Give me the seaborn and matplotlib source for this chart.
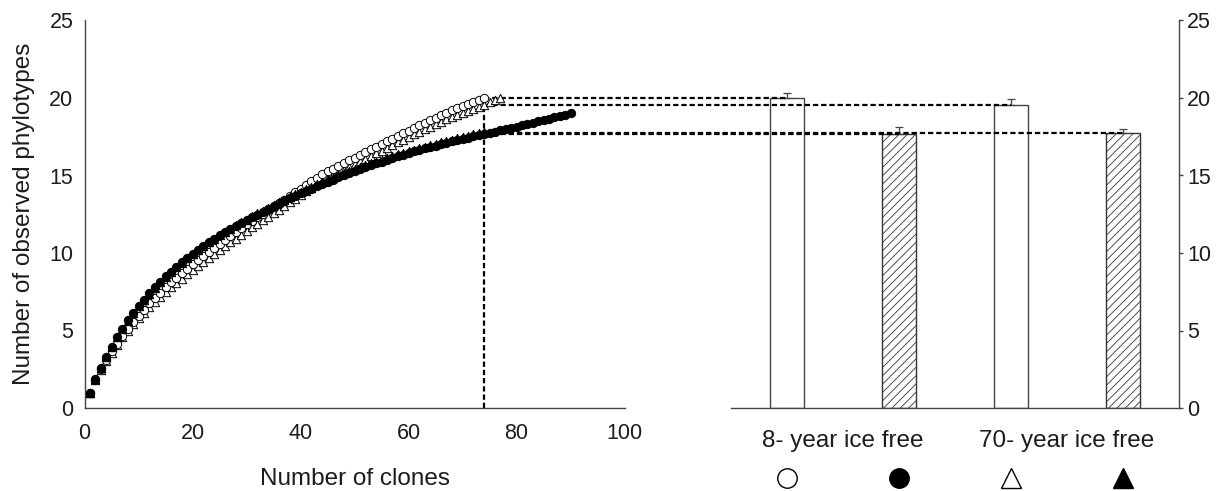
import matplotlib
matplotlib.use("Agg")
import matplotlib.pyplot as plt
import matplotlib.transforms as mtransforms
import numpy as np
import pandas as pd
import seaborn as sns

# Rarefaction curves: observed phylotypes vs. number of clones sampled
site8_open = [
    1.0, 1.8, 2.5, 3.1, 3.65, 4.15, 4.65, 5.1, 5.55, 5.95,
    6.35, 6.75, 7.1, 7.45, 7.8, 8.1, 8.4, 8.7, 9.0, 9.28,
    9.55, 9.82, 10.08, 10.34, 10.6, 10.85, 11.1, 11.35, 11.6, 11.84,
    12.07, 12.3, 12.53, 12.76, 12.99, 13.22, 13.45, 13.68, 13.92, 14.16,
    14.4, 14.63, 14.87, 15.1, 15.28, 15.45, 15.63, 15.8, 15.98, 16.15,
    16.33, 16.5, 16.68, 16.85, 17.03, 17.2, 17.38, 17.55, 17.73, 17.9,
    18.08, 18.25, 18.41, 18.57, 18.73, 18.89, 19.05, 19.2, 19.34, 19.48,
    19.61, 19.74, 19.87, 20.0,
]
site8_filled = [
    1.0, 1.85, 2.6, 3.3, 3.95, 4.55, 5.1, 5.65, 6.15, 6.6,
    7.0, 7.4, 7.8, 8.15, 8.5, 8.8, 9.1, 9.4, 9.68, 9.95,
    10.2, 10.45, 10.7, 10.93, 11.15, 11.35, 11.55, 11.75, 11.93, 12.1,
    12.3, 12.48, 12.66, 12.84, 13.0, 13.18, 13.35, 13.52, 13.68, 13.84,
    14.0, 14.15, 14.3, 14.45, 14.6, 14.74, 14.88, 15.02, 15.15, 15.28,
    15.41, 15.54, 15.66, 15.78, 15.9, 16.02, 16.13, 16.24, 16.35, 16.45,
    16.55, 16.65, 16.75, 16.84, 16.93, 17.02, 17.11, 17.2, 17.29, 17.37,
    17.45, 17.52, 17.59, 17.65, 17.74, 17.82, 17.91, 17.99, 18.08, 18.16,
    18.25, 18.33, 18.41, 18.5, 18.58, 18.66, 18.75, 18.83, 18.92, 19.0,
]
site70_open = [
    1.0, 1.8, 2.45, 3.05, 3.58, 4.07, 4.55, 4.98, 5.4, 5.78,
    6.16, 6.53, 6.86, 7.19, 7.5, 7.78, 8.06, 8.34, 8.62, 8.88,
    9.14, 9.4, 9.66, 9.92, 10.18, 10.43, 10.68, 10.93, 11.18, 11.42,
    11.65, 11.88, 12.11, 12.34, 12.57, 12.8, 13.03, 13.26, 13.5, 13.74,
    13.98, 14.21, 14.45, 14.68, 14.86, 15.03, 15.21, 15.38, 15.56, 15.73,
    15.91, 16.08, 16.26, 16.43, 16.61, 16.78, 16.96, 17.13, 17.31, 17.48,
    17.66, 17.83, 17.99, 18.15, 18.31, 18.47, 18.63, 18.78, 18.92, 19.06,
    19.19, 19.32, 19.45, 19.57, 19.72, 19.87, 20.02,
]
site70_filled = [
    1.0, 1.85, 2.6, 3.3, 3.95, 4.55, 5.1, 5.63, 6.12, 6.57,
    6.98, 7.38, 7.77, 8.12, 8.47, 8.78, 9.08, 9.38, 9.66, 9.93,
    10.19, 10.44, 10.69, 10.93, 11.16, 11.37, 11.58, 11.79, 11.98, 12.16,
    12.36, 12.55, 12.74, 12.92, 13.09, 13.27, 13.45, 13.62, 13.79, 13.95,
    14.11, 14.27, 14.42, 14.57, 14.72, 14.86, 15.0, 15.14, 15.27, 15.4,
    15.53, 15.66, 15.78, 15.9, 16.02, 16.14, 16.25, 16.36, 16.47, 16.57,
    16.67, 16.77, 16.87, 16.96, 17.05, 17.14, 17.23, 17.32, 17.41, 17.5,
    17.58, 17.65, 17.72, 17.78,
]

# Richness at the common sampling depth (mean and upper error)
rarefy_depth = 74
bar_keys = ["site8_open", "site8_filled", "site70_open", "site70_filled"]
bar_values = [20.0, 17.65, 19.55, 17.75]
bar_errors = [0.35, 0.5, 0.4, 0.27]
group_labels = ["8- year ice free", "70- year ice free"]

x_ticks = [0, 20, 40, 60, 80, 100]
y_ticks = [0, 5, 10, 15, 20, 25]

sns.set_style("white")
plt.rcParams["font.family"] = ["Liberation Sans", "DejaVu Sans"]
plt.rcParams["hatch.linewidth"] = 0.6
plt.rcParams["hatch.color"] = "#222222"

INK = "#1c1c1c"
SPINE = "#444444"

fig = plt.figure(figsize=(12.3, 4.91), dpi=100)
ax1 = fig.add_axes([84.5 / 1230, 83 / 491, 540 / 1230, 387.5 / 491])
ax2 = fig.add_axes([731 / 1230, 83 / 491, 448 / 1230, 387.5 / 491])
ax1.set_zorder(ax2.get_zorder() + 1)
ax1.patch.set_alpha(0)

# --- rarefaction curves (filled series drawn last) ---
series = [
    ("site70_open", site70_open, "^", "white", "black"),
    ("site8_open", site8_open, "o", "white", "black"),
    ("site70_filled", site70_filled, "^", "black", "black"),
    ("site8_filled", site8_filled, "o", "black", "black"),
]
for name, obs, mk, fc, ec in series:
    df = pd.DataFrame({"clones": np.arange(1, len(obs) + 1), "phylotypes": obs})
    sns.scatterplot(data=df, x="clones", y="phylotypes", ax=ax1, marker=mk,
                    s=36, color=fc, edgecolor=ec, linewidth=0.7, zorder=3,
                    clip_on=False, legend=False)

ax1.set_xlim(0, 100)
ax1.set_ylim(0, 25)
ax1.set_xticks(x_ticks)
ax1.set_yticks(y_ticks)
ax1.set_xlabel("Number of clones", fontsize=17.5, color=INK, labelpad=17)
ax1.set_ylabel("Number of observed phylotypes", fontsize=17.5, color=INK, labelpad=10)
for s in ["top", "right"]:
    ax1.spines[s].set_visible(False)
for s in ["left", "bottom"]:
    ax1.spines[s].set_color(SPINE)
    ax1.spines[s].set_linewidth(1.0)
ax1.tick_params(axis="both", direction="out", length=4, width=1.0, color=SPINE,
                labelsize=15.5, labelcolor=INK, pad=4)
ax1.tick_params(axis="x", length=5, pad=6)

# --- richness bars ---
bdf = pd.DataFrame({"key": bar_keys, "value": bar_values})
sns.barplot(data=bdf, x="key", y="value", ax=ax2, width=0.3, color="white",
            edgecolor=SPINE, linewidth=1.0, errorbar=None, saturation=1)
for i, patch in enumerate(ax2.patches):
    patch.set_facecolor("white")
    if i % 2 == 1:
        patch.set_hatch("////")
        patch.set_edgecolor("#333333")
xpos = np.arange(len(bar_values))
ax2.errorbar(xpos, bar_values, yerr=[np.zeros(len(bar_errors)), bar_errors],
             fmt="none", ecolor=SPINE, elinewidth=0.9, capsize=3, capthick=0.9,
             zorder=3)
ax2.set_xlim(-0.5, 3.5)
ax2.set_ylim(0, 25)
ax2.set_yticks(y_ticks)
ax2.set_xticks([])
ax2.set_xlabel("")
ax2.set_ylabel("")
ax2.yaxis.tick_right()
for s in ["top", "left"]:
    ax2.spines[s].set_visible(False)
for s in ["right", "bottom"]:
    ax2.spines[s].set_color(SPINE)
    ax2.spines[s].set_linewidth(1.0)
ax2.tick_params(axis="y", direction="out", length=3, width=1.0, color=SPINE,
                labelsize=15.5, labelcolor=INK, pad=3)

# group captions and marker key below the bars
blend = mtransforms.blended_transform_factory(ax2.transData, ax2.transAxes)
for g, label in enumerate(group_labels):
    ax2.text(2 * g + 0.5, -0.086, label, transform=blend, ha="center",
             va="center", fontsize=17.5, color=INK)
key_styles = [("o", "white"), ("o", "black"), ("^", "white"), ("^", "black")]
for i, (mk, fc) in enumerate(key_styles):
    ax2.plot([xpos[i]], [-0.18], marker=mk, markersize=14, markerfacecolor=fc,
             markeredgecolor="black", markeredgewidth=1.0, linestyle="none",
             transform=blend, clip_on=False)

# dashed guides from the curves at the common depth to each bar
dash_kw = dict(color="black", linewidth=1.6, dashes=(2.4, 1.3), clip_on=False,
               zorder=2)
ax1.plot([rarefy_depth, rarefy_depth], [0, max(bar_values)], **dash_kw)
to_ax1 = ax1.transData.inverted()
for i, v in enumerate(bar_values):
    x_end = to_ax1.transform(ax2.transData.transform((xpos[i], v)))[0]
    ax1.plot([rarefy_depth, x_end], [v, v], **dash_kw)

fig.savefig("out.png", dpi=100)
